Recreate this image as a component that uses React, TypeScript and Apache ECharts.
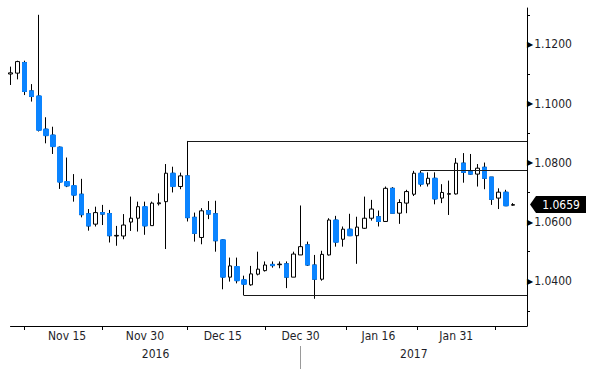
import React, { useEffect, useRef } from 'react';
import * as echarts from 'echarts';

const tradingDays = [
  'Nov 3', 'Nov 4', 'Nov 7', 'Nov 8', 'Nov 9', 'Nov 10', 'Nov 11', 'Nov 14', 'Nov 15', 'Nov 16',
  'Nov 17', 'Nov 18', 'Nov 21', 'Nov 22', 'Nov 23', 'Nov 24', 'Nov 25', 'Nov 28', 'Nov 29', 'Nov 30',
  'Dec 1', 'Dec 2', 'Dec 5', 'Dec 6', 'Dec 7', 'Dec 8', 'Dec 9', 'Dec 12', 'Dec 13', 'Dec 14',
  'Dec 15', 'Dec 16', 'Dec 19', 'Dec 20', 'Dec 21', 'Dec 22', 'Dec 23', 'Dec 26', 'Dec 27', 'Dec 28',
  'Dec 29', 'Dec 30', 'Jan 2', 'Jan 3', 'Jan 4', 'Jan 5', 'Jan 6', 'Jan 9', 'Jan 10', 'Jan 11',
  'Jan 12', 'Jan 13', 'Jan 16', 'Jan 17', 'Jan 18', 'Jan 19', 'Jan 20', 'Jan 23', 'Jan 24', 'Jan 25',
  'Jan 26', 'Jan 27', 'Jan 30', 'Jan 31', 'Feb 1', 'Feb 2', 'Feb 3', 'Feb 6', 'Feb 7', 'Feb 8',
  'Feb 9', 'Feb 10',
];
const padDays = ['Feb 13', 'Feb 14'];

const opens = [
  1.1100, 1.1103, 1.1139, 1.1043, 1.1026, 1.0914, 1.0894, 1.0853, 1.0737, 1.0723,
  1.0694, 1.0628, 1.0593, 1.0632, 1.0629, 1.0553, 1.0553, 1.0600, 1.0613, 1.0652,
  1.0588, 1.0662, 1.0669, 1.0765, 1.0720, 1.0756, 1.0616, 1.0548, 1.0639, 1.0628,
  1.0540, 1.0414, 1.0450, 1.0405, 1.0388, 1.0424, 1.0436, 1.0457, 1.0456, 1.0459,
  1.0414, 1.0489, 1.0523, 1.0455, 1.0407, 1.0489, 1.0607, 1.0542, 1.0576, 1.0554,
  1.0579, 1.0613, 1.0618, 1.0602, 1.0714, 1.0630, 1.0664, 1.0694, 1.0765, 1.0729,
  1.0748, 1.0681, 1.0694, 1.0695, 1.0799, 1.0770, 1.0762, 1.0785, 1.0752, 1.0681,
  1.0701, 1.0657,
];
const closes = [
  1.1104, 1.1142, 1.1041, 1.1024, 1.0910, 1.0892, 1.0855, 1.0735, 1.0722, 1.0691,
  1.0625, 1.0587, 1.0632, 1.0627, 1.0554, 1.0555, 1.0590, 1.0613, 1.0652, 1.0587,
  1.0664, 1.0665, 1.0765, 1.0720, 1.0756, 1.0615, 1.0562, 1.0638, 1.0627, 1.0537,
  1.0414, 1.0452, 1.0402, 1.0390, 1.0425, 1.0441, 1.0455, 1.0453, 1.0458, 1.0414,
  1.0492, 1.0517, 1.0455, 1.0407, 1.0491, 1.0607, 1.0532, 1.0576, 1.0554, 1.0583,
  1.0613, 1.0644, 1.0602, 1.0714, 1.0630, 1.0666, 1.0703, 1.0765, 1.0728, 1.0748,
  1.0678, 1.0700, 1.0696, 1.0799, 1.0768, 1.0762, 1.0782, 1.0748, 1.0677, 1.0701,
  1.0655, 1.0659,
];
const lows = [
  1.1063, 1.1082, 1.1029, 1.1007, 1.0906, 1.0866, 1.0830, 1.0712, 1.0718, 1.0669,
  1.0616, 1.0571, 1.0585, 1.0590, 1.0531, 1.0520, 1.0542, 1.0570, 1.0568, 1.0557,
  1.0588, 1.0656, 1.0509, 1.0700, 1.0711, 1.0602, 1.0534, 1.0525, 1.0610, 1.0500,
  1.0373, 1.0399, 1.0393, 1.0352, 1.0385, 1.0420, 1.0433, 1.0446, 1.0444, 1.0377,
  1.0414, 1.0489, 1.0452, 1.0341, 1.0402, 1.0487, 1.0517, 1.0517, 1.0554, 1.0459,
  1.0577, 1.0605, 1.0585, 1.0602, 1.0630, 1.0594, 1.0630, 1.0688, 1.0720, 1.0720,
  1.0660, 1.0664, 1.0624, 1.0693, 1.0733, 1.0760, 1.0720, 1.0711, 1.0658, 1.0644,
  1.0655, 1.0655,
];
const highs = [
  1.1125, 1.1145, 1.1145, 1.1066, 1.1300, 1.0954, 1.0922, 1.0855, 1.0818, 1.0762,
  1.0746, 1.0644, 1.0652, 1.0658, 1.0641, 1.0587, 1.0627, 1.0686, 1.0669, 1.0669,
  1.0669, 1.0697, 1.0796, 1.0787, 1.0767, 1.0874, 1.0632, 1.0647, 1.0671, 1.0672,
  1.0542, 1.0480, 1.0480, 1.0419, 1.0452, 1.0500, 1.0467, 1.0467, 1.0467, 1.0467,
  1.0500, 1.0656, 1.0534, 1.0489, 1.0503, 1.0613, 1.0621, 1.0585, 1.0628, 1.0618,
  1.0686, 1.0675, 1.0639, 1.0720, 1.0718, 1.0677, 1.0709, 1.0773, 1.0774, 1.0768,
  1.0768, 1.0728, 1.0740, 1.0816, 1.0833, 1.0830, 1.0796, 1.0801, 1.0752, 1.0714,
  1.0709, 1.0664,
];

const monthLabels = ['Nov 15', 'Nov 30', 'Dec 15', 'Dec 30', 'Jan 16', 'Jan 31'];
const yearLabels = ['2016', '2017'];
const yLabelValues = [1.04, 1.06, 1.08, 1.10, 1.12];
const yMinorTickValues = [1.03, 1.05, 1.07, 1.09, 1.11, 1.13];
const levelValues = [1.0874, 1.0352, 1.0774];
const levelStarts = ['Dec 8', 'Dec 20', 'Jan 24'];
const lastPrice = 1.0659;

// layout helpers (half-step positions along the date axis)
const halfStepTicks = [4, 26, 50, 72, 95, 115, 137];
const yearSeparatorStep = 82;
const yearLabelSteps = [41, 114];

const FONT = '"DejaVu Sans Condensed", "DejaVu Sans", sans-serif';
const BLUE = '#0b84ff';

export default function App() {
  const ref = useRef<HTMLDivElement>(null);

  useEffect(() => {
    const chart = echarts.init(ref.current!, null, { renderer: 'svg' });
    const categories = [...tradingDays, ...padDays];
    const halfSteps = Array.from({ length: categories.length * 2 - 1 }, (_, i) => String(i));
    const candleData = tradingDays.map((_, i) => [opens[i], closes[i], lows[i], highs[i]]);
    const downBodies = tradingDays.map((_, i) =>
      closes[i] < opens[i] ? [opens[i], closes[i], closes[i], opens[i]] : ['-', '-', '-', '-']
    );
    const lastCat = categories[categories.length - 1];

    chart.setOption({
      animation: false,
      backgroundColor: '#ffffff',
      textStyle: { fontFamily: FONT },
      grid: { left: 10.5, right: 73, top: 8, bottom: 43 },
      xAxis: [
        {
          type: 'category',
          data: categories,
          boundaryGap: false,
          position: 'bottom',
          axisLine: { show: true, lineStyle: { color: '#000', width: 1 } },
          axisTick: { show: false },
          splitLine: { show: false },
          axisLabel: {
            interval: (_i: number, v: string) => monthLabels.includes(v),
            color: '#1e1e28',
            fontSize: 12,
            fontFamily: FONT,
            margin: 4,
          },
        },
        {
          type: 'category',
          data: halfSteps,
          boundaryGap: false,
          position: 'bottom',
          axisLine: { show: false },
          axisTick: {
            show: true,
            length: 4,
            interval: (i: number) => halfStepTicks.includes(i),
            lineStyle: { color: '#000', width: 1 },
          },
          axisLabel: { show: false },
          splitLine: { show: false },
        },
        {
          type: 'category',
          data: halfSteps,
          boundaryGap: false,
          position: 'bottom',
          offset: 20,
          axisLine: { show: false },
          axisTick: {
            show: true,
            length: 26,
            interval: (i: number) => i === yearSeparatorStep,
            lineStyle: { color: '#9a9a9a', width: 1 },
          },
          axisLabel: {
            show: true,
            interval: (i: number) => yearLabelSteps.includes(i),
            formatter: (_v: string, idx: number) => yearLabels[yearLabelSteps.indexOf(idx)] ?? '',
            color: '#1e1e28',
            fontSize: 12,
            fontFamily: FONT,
            margin: 2,
          },
          splitLine: { show: false },
        },
      ],
      yAxis: {
        type: 'value',
        position: 'right',
        min: 1.0249,
        max: 1.1323,
        scale: true,
        splitLine: { show: false },
        axisLine: { show: true, lineStyle: { color: '#000', width: 1 } },
        axisTick: {
          show: true,
          customValues: yMinorTickValues,
          length: 3,
          lineStyle: { color: '#000' },
        },
        axisLabel: {
          customValues: yLabelValues,
          margin: 0,
          formatter: (v: number) => `{t|▶}{n|${v.toFixed(4)}}`,
          rich: {
            t: { fontSize: 8, color: '#000', fontFamily: 'DejaVu Sans', padding: [0, 1, 0, 0] },
            n: { fontSize: 12, color: '#1e1e28', fontFamily: FONT },
          },
        },
      },
      series: [
        {
          type: 'candlestick',
          name: 'EURUSD',
          xAxisIndex: 0,
          yAxisIndex: 0,
          data: candleData,
          barWidth: 4,
          clip: false,
          itemStyle: {
            color: '#ffffff',
            color0: BLUE,
            borderColor: '#000000',
            borderColor0: '#000000',
            borderWidth: 1,
          },
        },
        {
          type: 'candlestick',
          name: 'down bodies',
          xAxisIndex: 0,
          yAxisIndex: 0,
          data: downBodies,
          barWidth: 5,
          clip: false,
          silent: true,
          itemStyle: {
            color: BLUE,
            color0: BLUE,
            borderColor: BLUE,
            borderColor0: BLUE,
            borderWidth: 1,
          },
          markLine: {
            silent: true,
            symbol: ['none', 'none'],
            label: { show: false },
            lineStyle: { color: '#1a1a1a', width: 1, type: 'solid' },
            data: levelValues.map((lv, i) => [
              { coord: [levelStarts[i], lv] },
              { coord: [lastCat, lv] },
            ]),
          },
          markPoint: {
            silent: true,
            symbol: 'path://M0,8L6,0L56,0L56,16L6,16Z',
            symbolSize: [56, 17],
            symbolOffset: [31, 0],
            itemStyle: { color: '#000' },
            label: {
              show: true,
              position: 'inside',
              color: '#ffffff',
              fontSize: 12,
              fontFamily: FONT,
              offset: [3, 0],
              formatter: () => lastPrice.toFixed(4),
            },
            data: [{ coord: [lastCat, lastPrice] }],
          },
        },
      ],
    });

    return () => chart.dispose();
  }, []);

  return (
    <div
      ref={ref}
      style={{ position: 'fixed', left: 0, top: 0, width: 600, height: 369, background: '#fff' }}
    />
  );
}
